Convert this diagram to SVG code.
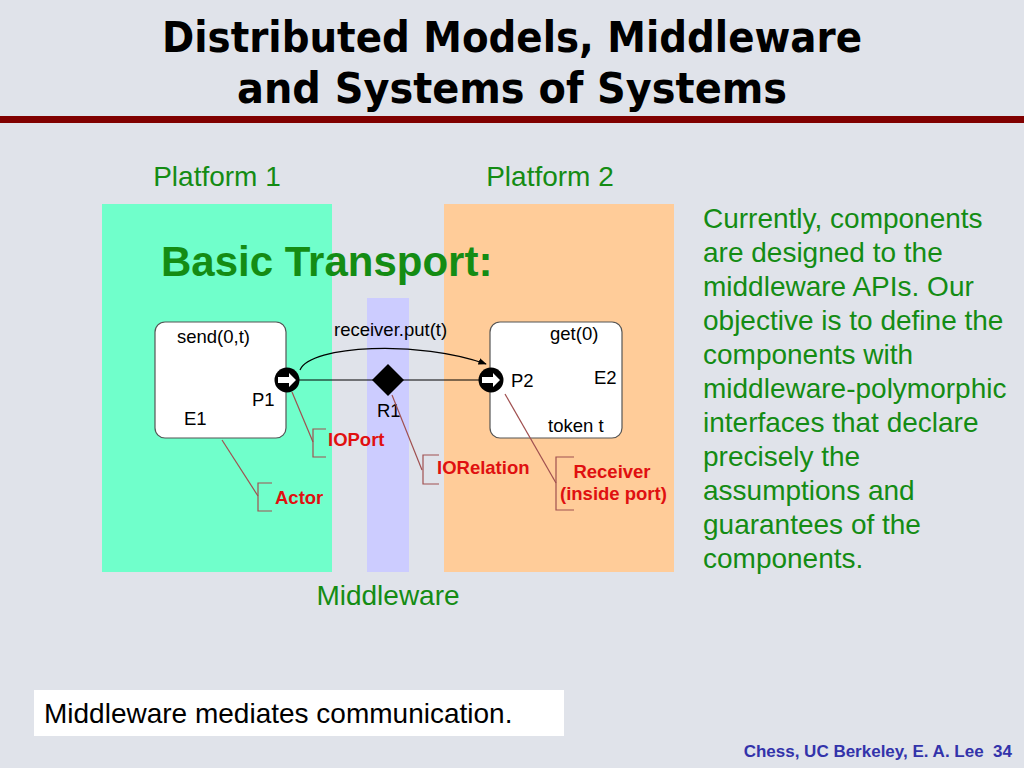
<svg xmlns="http://www.w3.org/2000/svg" width="1024" height="768" viewBox="0 0 1024 768">
<style>
.title{font-family:"DejaVu Sans Condensed","DejaVu Sans",sans-serif;font-weight:bold;font-size:43px;fill:#000;text-anchor:middle}
.grn{font-family:"Liberation Sans",Arial,sans-serif;fill:#148c14}
.lbl{font-family:"Liberation Sans",Arial,sans-serif;font-size:18.5px;fill:#000}
.red{font-family:"Liberation Sans",Arial,sans-serif;font-size:18.5px;font-weight:bold;fill:#e01010}
.box{fill:#fff;stroke:#555;stroke-width:1.2}
.wire{fill:none;stroke:#000;stroke-width:1.2}
.call{fill:none;stroke:#a05050;stroke-width:1.2}
</style>
<defs>
<marker id="ah" viewBox="0 0 10 10" refX="9" refY="5" markerWidth="7" markerHeight="7" orient="auto"><path d="M0,1 L10,5 L0,9 z" fill="#000"/></marker>
<g id="port"><circle r="12.5" fill="#000"/><path d="M-9,-3 H2 V-7 L9,0 L2,7 V3 H-9 z" fill="#fff"/></g>
</defs>
<rect width="1024" height="768" fill="#e0e3ea"/>
<text class="title" x="512" y="52" textLength="700" lengthAdjust="spacingAndGlyphs">Distributed Models, Middleware</text>
<text class="title" x="512" y="103" textLength="550" lengthAdjust="spacingAndGlyphs">and Systems of Systems</text>
<rect x="0" y="116" width="1024" height="7" fill="#800000"/>

<g id="platform1"><rect x="102" y="204" width="230" height="368" fill="#70ffcb"/>
<text class="grn" x="217" y="186" font-size="28" text-anchor="middle">Platform 1</text></g>
<g id="platform2"><rect x="444" y="204" width="230" height="368" fill="#ffcc99"/>
<text class="grn" x="550" y="186" font-size="28" text-anchor="middle">Platform 2</text></g>
<g id="middleware"><rect x="367" y="298" width="42" height="274" fill="#ccccff"/>
<text class="grn" x="388" y="605" font-size="28" text-anchor="middle">Middleware</text></g>

<text class="grn" x="161" y="276" font-size="42" font-weight="bold" fill="#0f960f">Basic Transport:</text>

<g id="connectors">
<line class="wire" x1="287" y1="380" x2="491" y2="380"/>
<path class="wire" d="M300,370 C310,345 420,340 486,364" marker-end="url(#ah)"/>
<path class="wire" d="M240,344 C258,348 270,356 282,368" marker-end="url(#ah)"/>
<path class="wire" d="M544,349 C530,356 515,364 504,372" marker-end="url(#ah)"/>
<path class="wire" d="M498,392 C508,405 525,413 546,418" marker-end="url(#ah)"/>
</g>

<g id="E1"><rect class="box" x="155" y="322" width="131" height="116" rx="10"/>
<text class="lbl" x="177" y="343">send(0,t)</text>
<text class="lbl" x="184" y="425">E1</text>
<text class="lbl" x="252" y="406">P1</text></g>
<g id="E2"><rect class="box" x="490" y="322" width="132" height="116" rx="10"/>
<text class="lbl" x="550" y="340">get(0)</text>
<text class="lbl" x="511" y="387">P2</text>
<text class="lbl" x="594" y="384">E2</text>
<text class="lbl" x="548" y="432">token t</text></g>
<g id="P1"><use href="#port" x="287" y="380"/></g>
<g id="P2"><use href="#port" x="491" y="380"/></g>
<g id="R1"><path d="M388,364 L404,380 L388,396 L372,380 z" fill="#000"/>
<text class="lbl" x="377" y="417">R1</text></g>
<text class="lbl" x="334" y="336">receiver.put(t)</text>

<g id="callout-ioport"><path class="call" d="M292,392 L313,442" stroke="#8a6a6a"/><path class="call" d="M326,429 H313 V457 H326" stroke="#8a7a7a"/>
<text class="red" x="328" y="446">IOPort</text></g>
<g id="callout-actor"><path class="call" d="M222,440 L258,496" stroke="#9a5050"/><path class="call" d="M272,483 H258 V511 H272" stroke="#9a7070"/>
<text class="red" x="275" y="504">Actor</text></g>
<g id="callout-iorelation"><path class="call" d="M392,395 L422,470" stroke="#dd3355"/><path class="call" d="M439,455 H423 V484 H439" stroke="#d06070"/>
<text class="red" x="437" y="474">IORelation</text></g>
<g id="callout-receiver"><path class="call" d="M505,394 L556,483" stroke="#d03040"/><path class="call" d="M574,457 H556 V510 H574" stroke="#c06060"/>
<text class="red" x="612" y="478" text-anchor="middle">Receiver</text>
<text class="red" x="560" y="500">(inside port)</text></g>

<g class="grn" font-size="28">
<text x="703" y="228">Currently, components</text>
<text x="703" y="262">are designed to the</text>
<text x="703" y="296">middleware APIs. Our</text>
<text x="703" y="330">objective is to define the</text>
<text x="703" y="364">components with</text>
<text x="703" y="398">middleware-polymorphic</text>
<text x="703" y="432">interfaces that declare</text>
<text x="703" y="466">precisely the</text>
<text x="703" y="500">assumptions and</text>
<text x="703" y="534">guarantees of the</text>
<text x="703" y="568">components.</text>
</g>

<g id="note"><rect x="34" y="690" width="530" height="46" fill="#fff"/>
<text x="44" y="723" font-family="Liberation Sans,Arial,sans-serif" font-size="28" fill="#000">Middleware mediates communication.</text></g>
<text x="1012" y="757" text-anchor="end" font-family="Liberation Sans,Arial,sans-serif" font-size="17" font-weight="bold" fill="#3333aa" xml:space="preserve">Chess, UC Berkeley, E. A. Lee  34</text>
</svg>
